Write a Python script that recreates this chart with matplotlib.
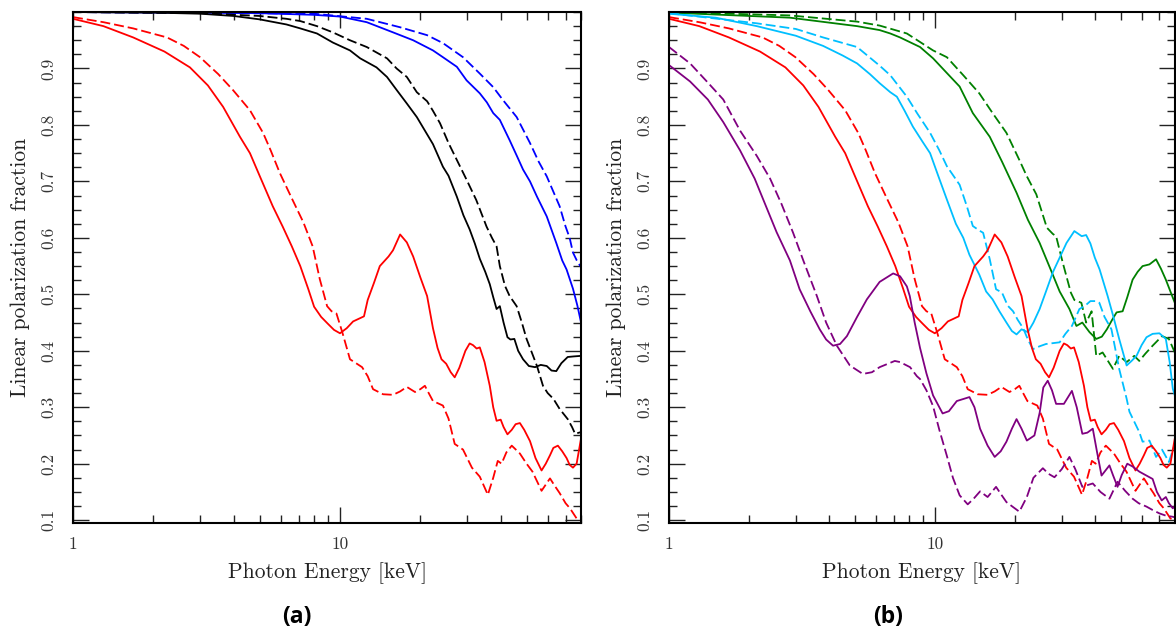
import numpy as np
import matplotlib
matplotlib.use("Agg")
import matplotlib.pyplot as plt
from matplotlib.ticker import FixedLocator, NullFormatter, LogLocator

# Photon energy [keV] and linear polarization fraction
red_solid_e = [1.0, 1.3, 1.68, 2.2, 2.74, 3.2, 3.65, 4.22, 4.6, 5.0, 5.6, 6.1, 6.6, 7.1, 7.6, 8.0, 8.5,
               9.0, 9.5, 10.0, 10.6, 11.2, 12.3, 12.7, 13.4, 14.1, 15.2, 15.8, 16.8, 17.8, 18.8, 20.0,
               21.2, 22.3, 23.2, 24.0, 25.0, 26.0, 26.9, 28.0, 29.5, 30.6, 31.5, 32.5, 33.4, 34.8, 36.4,
               37.5, 38.6, 40.0, 41.0, 42.4, 44.0, 45.5, 47.2, 49.0, 51.5, 54.0, 56.9, 59.0, 61.2, 63.0,
               65.5, 68.0, 70.6, 72.5, 74.6, 77.0, 80.0]
red_solid_p = [0.988, 0.975, 0.955, 0.93, 0.902, 0.87, 0.832, 0.779, 0.75, 0.71, 0.656, 0.62, 0.585,
               0.55, 0.51, 0.478, 0.46, 0.448, 0.437, 0.431, 0.44, 0.452, 0.461, 0.49, 0.52, 0.55, 0.567,
               0.578, 0.606, 0.592, 0.567, 0.53, 0.497, 0.44, 0.405, 0.385, 0.377, 0.362, 0.353, 0.37,
               0.4, 0.413, 0.41, 0.404, 0.406, 0.38, 0.338, 0.3, 0.276, 0.278, 0.265, 0.252, 0.26, 0.27,
               0.272, 0.26, 0.24, 0.21, 0.188, 0.2, 0.215, 0.228, 0.232, 0.222, 0.21, 0.198, 0.193, 0.2,
               0.245]

red_dash_e = [1.0, 1.3, 1.68, 2.25, 2.6, 2.99, 3.5, 3.97, 4.6, 5.15, 5.5, 5.95, 6.6, 7.3, 7.9, 8.4, 8.95,
              9.3, 9.7, 10.2, 10.9, 12.1, 12.7, 13.3, 14.5, 15.8, 16.8, 17.8, 19.1, 20.0, 20.8, 21.5,
              22.3, 24.3, 25.5, 26.9, 28.9, 31.2, 33.4, 35.8, 37.5, 39.0, 40.3, 42.0, 44.0, 47.2, 50.0,
              52.6, 56.9, 59.0, 61.2, 63.5, 66.5, 70.0, 72.7, 77.0, 80.0]
red_dash_p = [0.991, 0.982, 0.971, 0.955, 0.94, 0.92, 0.89, 0.862, 0.826, 0.786, 0.755, 0.715, 0.67,
              0.627, 0.585, 0.527, 0.479, 0.47, 0.466, 0.433, 0.385, 0.371, 0.355, 0.332, 0.323, 0.322,
              0.328, 0.336, 0.327, 0.332, 0.338, 0.325, 0.311, 0.303, 0.28, 0.235, 0.225, 0.193, 0.177,
              0.145, 0.175, 0.205, 0.2, 0.22, 0.232, 0.218, 0.2, 0.186, 0.152, 0.163, 0.174, 0.162,
              0.148, 0.13, 0.121, 0.103, 0.1]

black_solid_e = [1.0, 2.0, 3.0, 4.0, 5.0, 6.3, 7.1, 8.2, 9.4, 10.9, 11.9, 13.7, 15.0, 16.3, 17.8, 19.4,
                 20.8, 22.3, 24.3, 25.5, 27.4, 29.0, 30.6, 32.0, 33.4, 35.0, 36.4, 37.5, 38.6, 39.7,
                 41.0, 42.4, 43.5, 45.0, 46.5, 48.5, 51.0, 53.8, 56.5, 59.5, 62.0, 64.6, 67.5, 71.3,
                 75.0, 80.0]
black_solid_p = [1.0, 0.999, 0.997, 0.993, 0.987, 0.978, 0.971, 0.962, 0.946, 0.932, 0.918, 0.902, 0.885,
                 0.862, 0.838, 0.814, 0.79, 0.766, 0.726, 0.71, 0.673, 0.64, 0.615, 0.59, 0.563, 0.54,
                 0.518, 0.495, 0.474, 0.479, 0.45, 0.424, 0.42, 0.421, 0.4, 0.385, 0.373, 0.371, 0.375,
                 0.373, 0.365, 0.364, 0.378, 0.389, 0.39, 0.391]

black_dash_e = [1.0, 3.0, 5.0, 6.3, 7.1, 8.2, 9.4, 10.9, 12.6, 15.0, 16.3, 17.8, 19.4, 21.2, 22.3, 23.7,
                25.5, 27.4, 29.8, 32.4, 35.4, 37.1, 38.6, 39.7, 41.5, 43.2, 45.9, 48.0, 50.0, 52.5, 54.7,
                57.6, 60.0, 63.0, 66.5, 71.3, 74.0, 76.0, 80.0]
black_dash_p = [1.0, 0.998, 0.993, 0.988, 0.984, 0.975, 0.964, 0.95, 0.938, 0.918, 0.9, 0.885, 0.858,
                0.842, 0.825, 0.803, 0.768, 0.738, 0.703, 0.667, 0.62, 0.6, 0.585, 0.55, 0.515, 0.497,
                0.479, 0.45, 0.421, 0.395, 0.373, 0.338, 0.325, 0.315, 0.297, 0.279, 0.265, 0.253, 0.256]

blue_solid_e = [1.0, 5.0, 8.0, 10.0, 12.6, 15.8, 18.8, 22.3, 24.3, 27.4, 29.8, 33.4, 35.5, 37.5, 39.7,
                43.2, 46.0, 48.5, 51.5, 54.7, 59.5, 64.6, 68.0, 70.6, 74.6, 77.5, 80.0]
blue_solid_p = [1.0, 0.998, 0.995, 0.992, 0.982, 0.964, 0.95, 0.932, 0.92, 0.903, 0.879, 0.856, 0.84,
                0.821, 0.809, 0.773, 0.745, 0.721, 0.7, 0.673, 0.638, 0.591, 0.56, 0.544, 0.51, 0.48, 0.45]

blue_dash_e = [1.0, 8.0, 12.6, 16.8, 21.2, 24.3, 28.9, 33.4, 37.5, 40.8, 45.9, 51.5, 55.5, 59.5, 66.5,
               70.0, 72.5, 74.6, 77.1, 80.0]
blue_dash_p = [1.0, 0.997, 0.988, 0.973, 0.959, 0.945, 0.92, 0.891, 0.867, 0.844, 0.814, 0.768, 0.735,
               0.709, 0.656, 0.62, 0.6, 0.574, 0.56, 0.548]

purple_solid_e = [1.0, 1.2, 1.4, 1.6, 1.85, 2.1, 2.54, 2.85, 3.1, 3.4, 3.69, 3.9, 4.14, 4.4, 4.67, 5.1,
                  5.55, 6.2, 6.97, 7.4, 7.85, 8.05, 8.4, 8.8, 9.3, 9.85, 10.7, 11.3, 12.1, 13.5, 14.1,
                  14.8, 15.8, 16.8, 17.7, 18.6, 19.5, 20.3, 21.2, 22.2, 23.7, 24.8, 25.6, 26.6, 27.6,
                  28.6, 30.6, 32.8, 34.2, 35.9, 37.5, 39.3, 40.8, 42.4, 45.4, 46.8, 48.7, 50.5, 53.0,
                  55.5, 58.8, 62.0, 66.0, 68.5, 71.4, 74.0, 76.0, 78.6, 80.0]
purple_solid_p = [0.906, 0.877, 0.845, 0.805, 0.755, 0.705, 0.61, 0.56, 0.509, 0.47, 0.438, 0.42, 0.409,
                  0.412, 0.426, 0.46, 0.491, 0.522, 0.537, 0.532, 0.514, 0.497, 0.45, 0.405, 0.36, 0.321,
                  0.289, 0.293, 0.311, 0.318, 0.3, 0.262, 0.232, 0.212, 0.222, 0.239, 0.262, 0.279, 0.262,
                  0.241, 0.25, 0.29, 0.335, 0.347, 0.33, 0.306, 0.306, 0.329, 0.3, 0.253, 0.255, 0.262,
                  0.22, 0.179, 0.197, 0.18, 0.159, 0.18, 0.2, 0.195, 0.186, 0.18, 0.173, 0.15, 0.135,
                  0.141, 0.13, 0.121, 0.125]

purple_dash_e = [1.0, 1.2, 1.4, 1.6, 1.85, 2.14, 2.4, 2.65, 2.93, 3.2, 3.6, 3.9, 4.28, 4.79, 5.36, 5.8,
                 6.2, 7.07, 7.4, 8.07, 8.56, 8.8, 9.3, 9.85, 10.4, 11.1, 11.7, 12.4, 13.3, 14.0, 14.8,
                 15.8, 17.0, 17.8, 18.6, 19.6, 20.8, 22.2, 23.5, 25.5, 26.8, 28.2, 30.0, 32.1, 33.8,
                 35.9, 37.5, 39.3, 42.0, 45.4, 48.7, 52.0, 55.5, 58.5, 62.6, 66.0, 70.0, 74.0, 78.6, 80.0]
purple_dash_p = [0.938, 0.909, 0.875, 0.845, 0.79, 0.745, 0.705, 0.66, 0.609, 0.56, 0.497, 0.45, 0.409,
                 0.374, 0.359, 0.362, 0.371, 0.382, 0.38, 0.371, 0.355, 0.35, 0.33, 0.302, 0.26, 0.214,
                 0.175, 0.144, 0.128, 0.138, 0.151, 0.141, 0.159, 0.145, 0.132, 0.124, 0.115, 0.141,
                 0.175, 0.192, 0.182, 0.176, 0.19, 0.212, 0.19, 0.159, 0.162, 0.165, 0.15, 0.138, 0.168,
                 0.152, 0.138, 0.13, 0.124, 0.118, 0.112, 0.108, 0.106, 0.105]

sky_solid_e = [1.0, 1.5, 2.14, 3.0, 3.8, 4.5, 5.1, 5.7, 6.2, 6.8, 7.2, 7.7, 8.27, 9.0, 9.6, 10.3, 11.1,
               12.0, 12.8, 13.5, 14.7, 15.6, 16.5, 17.5, 18.6, 19.5, 20.3, 21.2, 22.4, 23.5, 24.8, 26.2,
               27.8, 29.5, 31.3, 33.5, 35.7, 37.1, 38.5, 40.0, 41.7, 44.7, 47.0, 49.4, 52.7, 55.0, 57.4,
               60.0, 62.6, 66.0, 70.0, 74.0, 76.5, 78.6, 80.0]
sky_solid_p = [0.997, 0.99, 0.975, 0.958, 0.94, 0.923, 0.909, 0.89, 0.874, 0.858, 0.85, 0.825, 0.797,
               0.77, 0.75, 0.71, 0.668, 0.625, 0.6, 0.57, 0.535, 0.505, 0.491, 0.47, 0.45, 0.435, 0.429,
               0.438, 0.433, 0.45, 0.474, 0.505, 0.539, 0.565, 0.591, 0.612, 0.603, 0.605, 0.59, 0.565,
               0.544, 0.497, 0.46, 0.421, 0.374, 0.382, 0.391, 0.41, 0.424, 0.43, 0.431, 0.421, 0.38,
               0.333, 0.321]

sky_dash_e = [1.0, 2.14, 3.0, 3.8, 5.1, 6.2, 6.8, 7.85, 8.6, 9.6, 10.4, 11.1, 12.4, 13.2, 13.9, 14.7,
              15.2, 16.1, 17.0, 17.9, 18.8, 19.7, 20.5, 21.5, 22.4, 23.4, 24.8, 26.2, 29.5, 31.0, 32.8,
              35.0, 36.6, 38.5, 40.5, 41.6, 43.5, 46.2, 49.4, 52.7, 54.0, 58.8, 60.5, 64.2, 68.0, 71.6,
              76.0, 80.0]
sky_dash_p = [0.998, 0.98, 0.97, 0.955, 0.938, 0.905, 0.888, 0.85, 0.82, 0.786, 0.755, 0.727, 0.694,
              0.656, 0.621, 0.613, 0.609, 0.562, 0.509, 0.503, 0.48, 0.47, 0.455, 0.44, 0.42, 0.403,
              0.408, 0.412, 0.415, 0.43, 0.444, 0.474, 0.479, 0.488, 0.488, 0.485, 0.46, 0.438, 0.368,
              0.315, 0.292, 0.256, 0.239, 0.241, 0.212, 0.225, 0.203, 0.235]

green_solid_e = [1.0, 2.85, 5.1, 6.2, 6.8, 7.4, 8.8, 9.85, 11.1, 12.4, 13.9, 16.1, 17.9, 20.3, 22.4, 24.8,
                 27.5, 29.5, 32.1, 34.1, 35.9, 38.2, 40.5, 42.5, 44.4, 46.5, 48.3, 50.9, 53.0, 55.5,
                 58.0, 60.5, 64.2, 68.0, 71.0, 74.0, 77.0, 80.0]
green_solid_p = [0.999, 0.99, 0.975, 0.968, 0.962, 0.955, 0.938, 0.918, 0.892, 0.868, 0.821, 0.779,
                 0.735, 0.68, 0.632, 0.591, 0.54, 0.505, 0.474, 0.444, 0.45, 0.433, 0.421, 0.425, 0.438,
                 0.455, 0.468, 0.47, 0.495, 0.526, 0.54, 0.55, 0.553, 0.562, 0.545, 0.526, 0.505, 0.485]

green_dash_e = [1.0, 2.85, 5.1, 6.2, 7.85, 9.85, 11.1, 12.8, 14.7, 16.5, 18.6, 20.8, 22.2, 24.1, 26.4,
                27.8, 28.6, 30.3, 32.5, 33.5, 35.6, 37.1, 38.9, 40.5, 42.8, 46.8, 49.4, 52.7, 56.3, 58.8,
                62.0, 66.0, 71.6, 76.0, 80.0]
green_dash_p = [1.0, 0.994, 0.983, 0.976, 0.962, 0.932, 0.92, 0.888, 0.856, 0.821, 0.786, 0.738, 0.709,
                0.677, 0.618, 0.607, 0.603, 0.556, 0.503, 0.49, 0.485, 0.45, 0.47, 0.391, 0.397, 0.368,
                0.391, 0.38, 0.391, 0.382, 0.395, 0.409, 0.426, 0.421, 0.397]

ytick_vals = [0.1, 0.2, 0.3, 0.4, 0.5, 0.6, 0.7, 0.8, 0.9]

plt.rcParams['font.family'] = 'cmr10'
plt.rcParams['mathtext.fontset'] = 'cm'
plt.rcParams['axes.formatter.use_mathtext'] = True

RED, BLUE, BLACK = '#ff0000', '#0000ff', '#000000'
GREEN, PURPLE, SKY = '#008000', '#800080', '#00bfff'
LW = 1.3
DASH = (5.5, 2.2)


def style_axes(ax):
    ax.set_xscale('log')
    ax.set_xlim(1, 80)
    ax.set_ylim(0.095, 1.0)
    ax.set_xticks([1, 10])
    ax.set_xticklabels(['1', '10'])
    ax.xaxis.set_minor_locator(LogLocator(base=10, subs=np.arange(2, 10)))
    ax.xaxis.set_minor_formatter(NullFormatter())
    ax.yaxis.set_major_locator(FixedLocator(ytick_vals))
    ax.set_yticklabels([f'{v:.1f}' for v in ytick_vals])
    ax.yaxis.set_minor_locator(FixedLocator(np.arange(0.1, 1.001, 0.025)))
    ax.tick_params(which='both', direction='in', top=True, right=True, width=1.0, colors='#222222')
    ax.tick_params(which='major', length=11.5)
    ax.tick_params(which='minor', length=5.8)
    ax.tick_params(axis='y', which='major', pad=12, labelsize=12.5, labelrotation=90,
                   labelcolor='#333333')
    ax.tick_params(axis='x', which='major', pad=10, labelsize=12.5, labelcolor='#333333')
    for lbl in ax.get_yticklabels():
        lbl.set_va('center')
    for sp in ax.spines.values():
        sp.set_linewidth(1.5)
    ax.set_xlabel('Photon Energy [keV]', fontsize=15.5, labelpad=7, color='#222222')
    ax.set_ylabel('Linear polarization fraction', fontsize=15.5, labelpad=8, color='#222222')


fig = plt.figure(figsize=(11.76, 6.33), dpi=100)
ax_a = fig.add_axes([0.0621, 0.1738, 0.4320, 0.8072])
ax_b = fig.add_axes([0.5689, 0.1738, 0.4301, 0.8072])

# panel (a)
ax_a.plot(blue_solid_e, blue_solid_p, color=BLUE, lw=LW)
ax_a.plot(blue_dash_e, blue_dash_p, color=BLUE, lw=LW, dashes=DASH)
ax_a.plot(black_solid_e, black_solid_p, color=BLACK, lw=LW)
ax_a.plot(black_dash_e, black_dash_p, color=BLACK, lw=LW, dashes=DASH)
ax_a.plot(red_solid_e, red_solid_p, color=RED, lw=LW)
ax_a.plot(red_dash_e, red_dash_p, color=RED, lw=LW, dashes=DASH)

# panel (b)
ax_b.plot(green_solid_e, green_solid_p, color=GREEN, lw=LW)
ax_b.plot(green_dash_e, green_dash_p, color=GREEN, lw=LW, dashes=DASH)
ax_b.plot(sky_solid_e, sky_solid_p, color=SKY, lw=LW)
ax_b.plot(sky_dash_e, sky_dash_p, color=SKY, lw=LW, dashes=DASH)
ax_b.plot(red_solid_e, red_solid_p, color=RED, lw=LW)
ax_b.plot(red_dash_e, red_dash_p, color=RED, lw=LW, dashes=DASH)
ax_b.plot(purple_solid_e, purple_solid_p, color=PURPLE, lw=LW)
ax_b.plot(purple_dash_e, purple_dash_p, color=PURPLE, lw=LW, dashes=DASH)

for ax in (ax_a, ax_b):
    style_axes(ax)

fig.text(0.252, 0.025, '(a)', ha='center', va='center', fontsize=16.5, fontweight='bold',
         family='Open Sans')
fig.text(0.755, 0.025, '(b)', ha='center', va='center', fontsize=16.5, fontweight='bold',
         family='Open Sans')

fig.savefig('out.png', dpi=100)
